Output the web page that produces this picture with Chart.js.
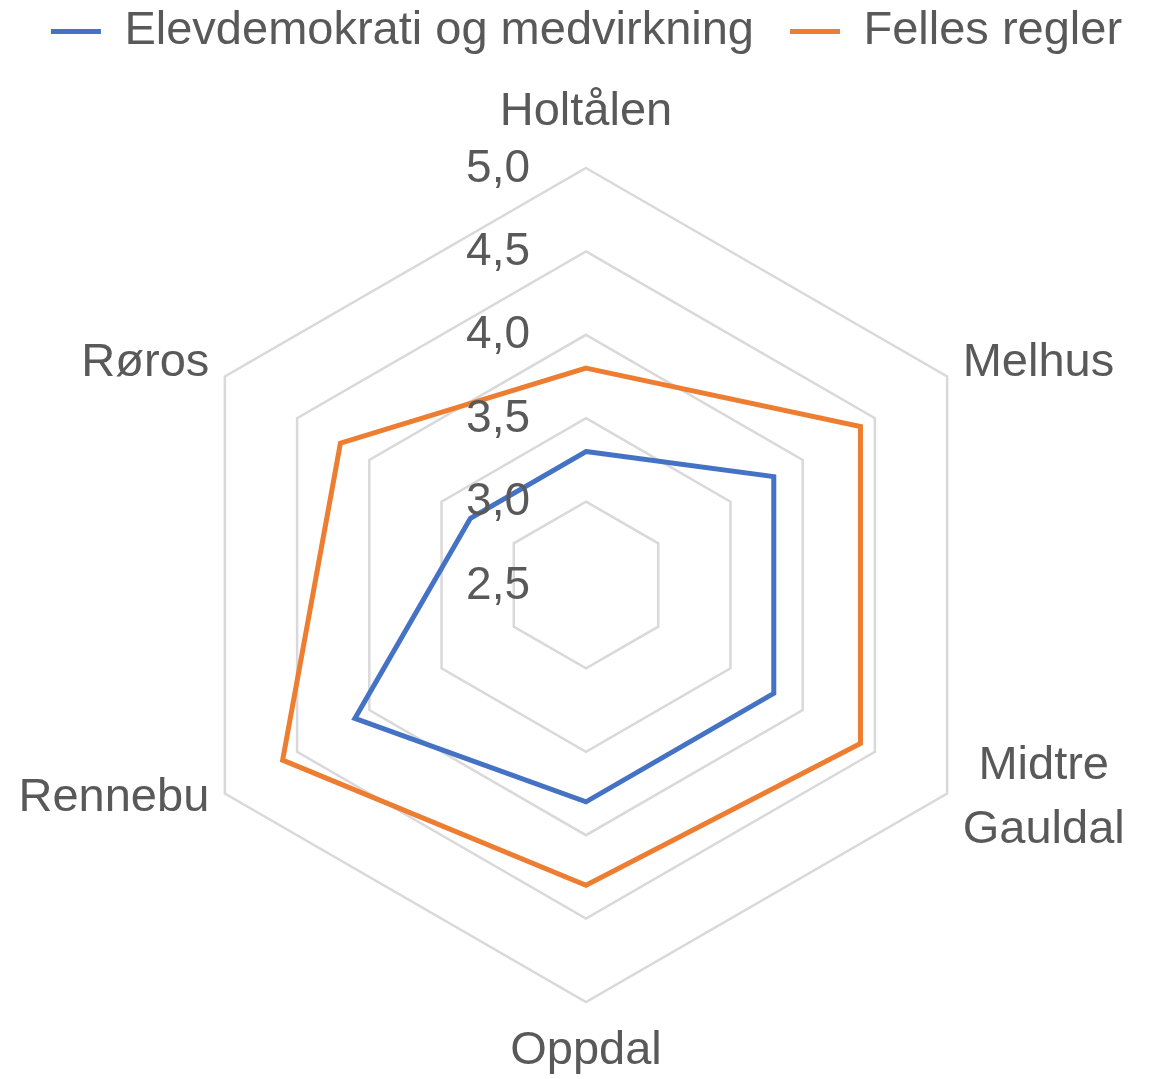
<!DOCTYPE html>
<html lang="no">
<head>
<meta charset="utf-8">
<title>Elevdemokrati og felles regler</title>
<script src="https://cdn.jsdelivr.net/npm/chart.js@4.4.1/dist/chart.umd.min.js"></script>
<style>
  html, body { margin: 0; padding: 0; background: #ffffff; }
  #boks { position: relative; width: 1162px; height: 1079px; }
</style>
</head>
<body>
<div id="boks"><canvas id="radarDiagram"></canvas></div>
<script>
  // Kommuner (kategorier) og verdier lest av diagrammet
  var kommuner = ['Holtålen', 'Melhus', ['Midtre', 'Gauldal'], 'Oppdal', 'Rennebu', 'Røros'];
  var elevdemokrati = [3.3, 3.8, 3.8, 3.8, 4.1, 3.3];
  var fellesRegler = [3.8, 4.4, 4.4, 4.3, 4.6, 4.2];

  // Skala for aksen
  var skalaMin = 2.5;
  var skalaMax = 5.0;
  var skalaSteg = 0.5;

  var tekstfarge = '#595959';
  var skrift = '"Liberation Sans", Arial, sans-serif';

  // Tallformat med komma, f.eks. 4,5
  function formaterTall(verdi) {
    return verdi.toFixed(1).replace('.', ',');
  }

  // Plugin som gir plass under forklaringen
  var forklaringPlass = {
    id: 'forklaringPlass',
    beforeLayout: function (chart) {
      var legend = chart.legend;
      if (legend && !legend._utvidet) {
        var fit = legend.fit;
        legend.fit = function () {
          fit.call(this);
          this.height = 196;
        };
        legend._utvidet = true;
      }
    }
  };

  // Plugin som tegner aksetall og kommunenavn
  var etiketter = {
    id: 'etiketter',
    afterDatasetsDraw: function (chart) {
      var skala = chart.scales.r;
      var ctx = chart.ctx;
      ctx.save();
      ctx.fillStyle = tekstfarge;
      ctx.textBaseline = 'middle';

      // Aksetall til venstre for den loddrette aksen
      ctx.font = '46px ' + skrift;
      ctx.textAlign = 'right';
      skala.ticks.forEach(function (tick) {
        var y = skala.yCenter - skala.getDistanceFromCenterForValue(tick.value);
        ctx.fillText(formaterTall(tick.value), skala.xCenter - 56, y + 1);
      });

      // Kommunenavn rundt diagrammet
      ctx.font = '47px ' + skrift;
      ctx.textAlign = 'center';
      var linjeHoyde = 64;
      chart.data.labels.forEach(function (etikett, i) {
        var linjer = [].concat(etikett);
        var pos = skala.getPointPosition(i, skala.drawingArea + 18);
        var dx = pos.x - skala.xCenter;
        var dy = pos.y - skala.yCenter;
        var bredde = 0;
        linjer.forEach(function (l) { bredde = Math.max(bredde, ctx.measureText(l).width); });
        var x = pos.x;
        var y = pos.y - (linjer.length - 1) * linjeHoyde / 2;
        if (Math.abs(dx) < 1) {
          y += dy < 0 ? -38 : 31;
        } else {
          x += dx > 0 ? bredde / 2 : -bredde / 2;
          y -= 4;
        }
        linjer.forEach(function (l, j) {
          ctx.fillText(l, x, y + j * linjeHoyde);
        });
      });
      ctx.restore();
    }
  };

  var radarConfig = {
    type: 'radar',
    data: {
      labels: kommuner,
      datasets: [
        {
          label: 'Elevdemokrati og medvirkning',
          data: elevdemokrati,
          borderColor: '#4472C4',
          backgroundColor: '#4472C4',
          borderWidth: 5,
          borderCapStyle: 'round',
          pointRadius: 0,
          pointHoverRadius: 0,
          fill: false
        },
        {
          label: 'Felles regler',
          data: fellesRegler,
          borderColor: '#ED7D31',
          backgroundColor: '#ED7D31',
          borderWidth: 5,
          borderCapStyle: 'round',
          pointRadius: 0,
          pointHoverRadius: 0,
          fill: false
        }
      ]
    },
    options: {
      responsive: true,
      maintainAspectRatio: false,
      animation: false,
      layout: {
        padding: { top: -28, left: 11, right: 0, bottom: 77 }
      },
      plugins: {
        tooltip: { enabled: false },
        legend: {
          position: 'top',
          labels: {
            usePointStyle: true,
            pointStyle: 'line',
            pointStyleWidth: 50,
            padding: 36,
            color: tekstfarge,
            font: { family: skrift, size: 47 }
          }
        }
      },
      scales: {
        r: {
          min: skalaMin,
          max: skalaMax,
          ticks: { stepSize: skalaSteg, display: false },
          angleLines: { display: false },
          grid: { color: '#d9d9d9', lineWidth: 2.5 },
          pointLabels: { display: false }
        }
      }
    },
    plugins: [forklaringPlass, etiketter]
  };

  var radarCtx = document.getElementById('radarDiagram').getContext('2d');
  var radarDiagram = new Chart(radarCtx, radarConfig);
</script>
</body>
</html>
